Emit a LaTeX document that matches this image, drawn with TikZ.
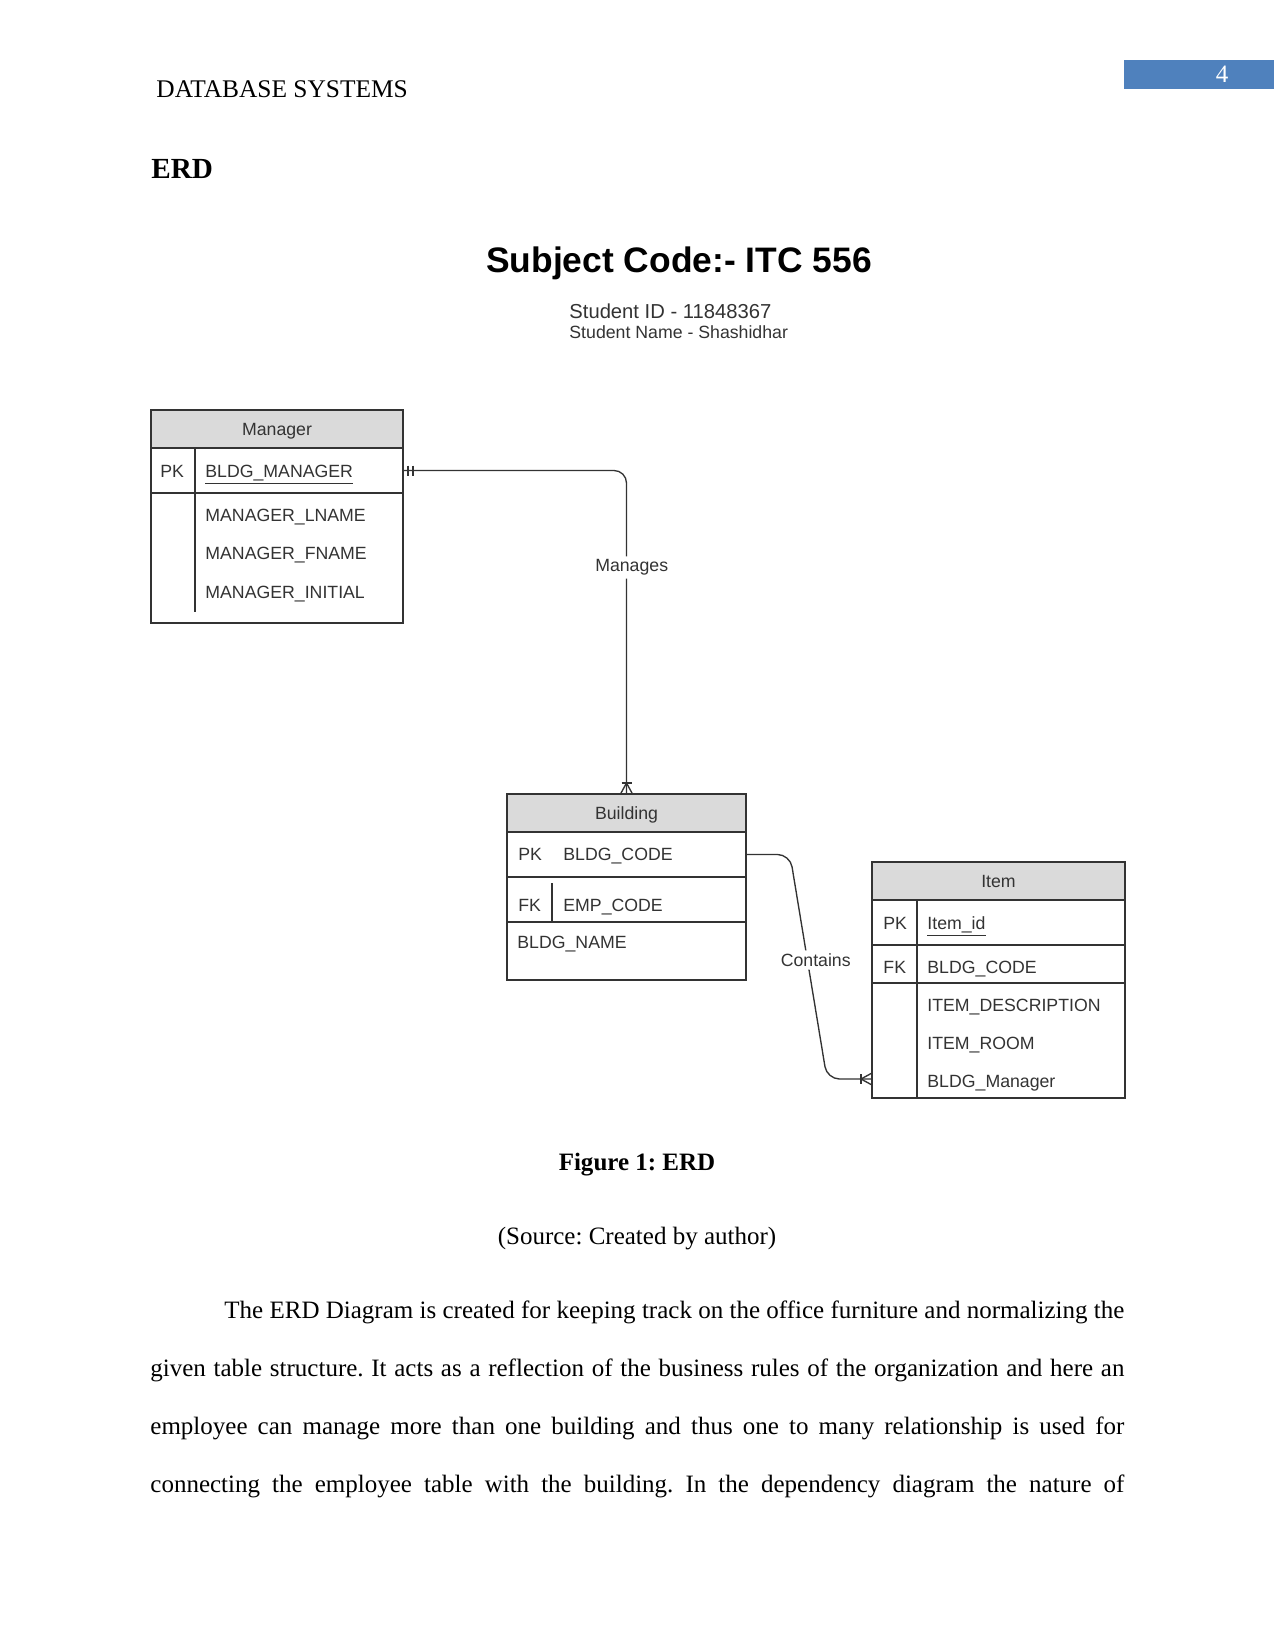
\documentclass[tikz,border=0pt]{standalone}
\usepackage{fontspec}
\setmainfont{Liberation Serif}
\newfontfamily\diagfont{Liberation Sans}
\usetikzlibrary{positioning,calc}
\definecolor{hdrgray}{HTML}{DADADA}
\definecolor{linegray}{HTML}{333333}
\definecolor{pagebar}{RGB}{79,129,189}
\newcommand\pix{0.48pt}
\frenchspacing
\begin{document}
\begin{tikzpicture}[x=0.48pt,y=-0.48pt,
    pagetext/.style={inner sep=0pt,font=\fontsize{12}{14}\selectfont},
    tbl/.style={draw=linegray,line width=0.65pt,inner sep=0pt,outer sep=0pt,minimum width=#1*\pix},
    hdr/.style={tbl=#1,fill=hdrgray,minimum height=38*\pix,text depth=0pt,text=linegray,font=\diagfont\fontsize{8.5}{10}\selectfont},
    fld/.style={anchor=base west,inner sep=0pt,text=linegray,font=\diagfont\fontsize{8.5}{10}\selectfont},
    tblline/.style={draw=linegray,line width=0.65pt},
    conn/.style={draw=linegray,line width=0.65pt,rounded corners=6pt},
    lbl/.style={fill=white,inner sep=1.5pt,text=linegray,font=\diagfont\fontsize{8.5}{10}\selectfont}]
  \fill[white] (0,0) rectangle (1275,1650);
  \useasboundingbox (0,0) rectangle (1275,1650);
  % page furniture
  \fill[pagebar] (1124,60) rectangle (1274,89);
  \node[pagetext,text=white,anchor=base] (pagenum) at (1222,83) {4};
  \node[pagetext,anchor=base west,font=\fontsize{12.2}{14}\selectfont] (runhead) at (156,98) {DATABASE SYSTEMS};
  \node[pagetext,anchor=base west,font=\bfseries\fontsize{14}{16}\selectfont] (erd) at (151,179) {ERD};
  % diagram heading
  \node[anchor=base,inner sep=0pt,font=\diagfont\bfseries\fontsize{17}{20}\selectfont] (subject) at (679,273) {Subject Code:- ITC 556};
  \node[fld,font=\diagfont\fontsize{9.7}{11}\selectfont] (stuid) at (569,319) {Student ID - 11848367};
  \node[fld] (stuname) at (569,339) {Student Name - Shashidhar};
  % Manager
  \node[hdr=252,anchor=north west] (manager) at (151,410) {Manager};
  \node[tbl=252,minimum height=45*\pix,below=0pt of manager] (mgrpk) {};
  \node[tbl=252,minimum height=130*\pix,below=0pt of mgrpk] (mgrattr) {};
  \draw[tblline] ([xshift=44*\pix]mgrpk.north west) -- ([xshift=44*\pix,yshift=11*\pix]mgrattr.south west);
  \node[fld] (mgrkey) at (160,477) {PK};
  \node[fld] (mgrid) at (205,477) {\underline{BLDG\_MANAGER}};
  \node[fld] (mgrlname) at (205,521) {MANAGER\_LNAME};
  \node[fld] (mgrfname) at (205,559) {MANAGER\_FNAME};
  \node[fld] (mgrinit) at (205,598) {MANAGER\_INITIAL};
  % Building
  \node[hdr=239,anchor=north west] (building) at (507,794) {Building};
  \node[tbl=239,minimum height=45*\pix,below=0pt of building] (bpk) {};
  \node[tbl=239,minimum height=45*\pix,below=0pt of bpk] (bfk) {};
  \node[tbl=239,minimum height=58*\pix,below=0pt of bfk] (battr) {};
  \draw[tblline] ([xshift=45*\pix,yshift=-6*\pix]bfk.north west) -- ([xshift=45*\pix]bfk.south west);
  \node[fld] (bkey) at (518,860) {PK};
  \node[fld] (bcode) at (563,860) {BLDG\_CODE};
  \node[fld] (bfkey) at (518,911) {FK};
  \node[fld] (bemp) at (563,911) {EMP\_CODE};
  \node[fld] (bname) at (517,948) {BLDG\_NAME};
  % Item
  \node[hdr=253,anchor=north west] (item) at (872,862) {Item};
  \node[tbl=253,minimum height=45*\pix,below=0pt of item] (ipk) {};
  \node[tbl=253,minimum height=38*\pix,below=0pt of ipk] (ifk) {};
  \node[tbl=253,minimum height=115*\pix,below=0pt of ifk] (iattr) {};
  \draw[tblline] ([xshift=45*\pix]ipk.north west) -- ([xshift=45*\pix]iattr.south west);
  \node[fld] (ikey) at (883,929) {PK};
  \node[fld] (iid) at (927,929) {\underline{Item\_id}};
  \node[fld] (ifkey) at (883,973) {FK};
  \node[fld] (icode) at (927,973) {BLDG\_CODE};
  \node[fld] (idesc) at (927,1011) {ITEM\_DESCRIPTION};
  \node[fld] (iroom) at (927,1049) {ITEM\_ROOM};
  \node[fld] (imgr) at (927,1087) {BLDG\_Manager};
  % relationships
  \draw[conn] (mgrpk.east) -| node[lbl,pos=.65,xshift=2.5pt]{Manages} (building.north);
  \draw[tblline] ([shift={(5,-5)}]mgrpk.east) -- ++(0,10);
  \draw[tblline] ([shift={(10,-5)}]mgrpk.east) -- ++(0,10);
  \draw[tblline] ([shift={(-5,-11)}]building.north) -- ++(10,0);
  \draw[tblline] ([shift={(-6,0)}]building.north) -- ([shift={(0,-11)}]building.north) -- ([shift={(6,0)}]building.north);
  \coordinate (itemend) at ($(iattr.south west)+(0,-19)$);
  \draw[conn] (bpk.east) -- ++(44,0) -- node[lbl,pos=.47,xshift=4pt]{Contains} ($(itemend)+(-45,0)$) -- (itemend);
  \draw[tblline] ([shift={(-11,-5)}]itemend) -- ++(0,10);
  \draw[tblline] ([shift={(0,-6)}]itemend) -- ([shift={(-11,0)}]itemend) -- ([shift={(0,6)}]itemend);
  % caption and body text
  \node[pagetext,anchor=base,font=\bfseries\fontsize{12}{14}\selectfont] (caption) at (637,1170) {Figure 1: ERD};
  \node[pagetext,anchor=base] (source) at (637,1244) {(Source: Created by author)};
  \node[pagetext,anchor=base west,text width=467.5pt,align=justify] (para) at (150,1318) {\fontsize{12}{27.85}\selectfont
    \spaceskip=0.25em plus 0.25em minus 0.1em\parfillskip=0pt\rightskip=0pt\noindent
    \hspace*{35.5pt}The ERD Diagram is created for keeping track on the office furniture and normalizing the\linebreak
    given table structure. It acts as a reflection of the business rules of the organization and here an\linebreak
    employee can manage more than one building and thus one to many relationship is used for\linebreak
    connecting the employee table with the building. In the dependency diagram the nature of\par};
\end{tikzpicture}
\end{document}
